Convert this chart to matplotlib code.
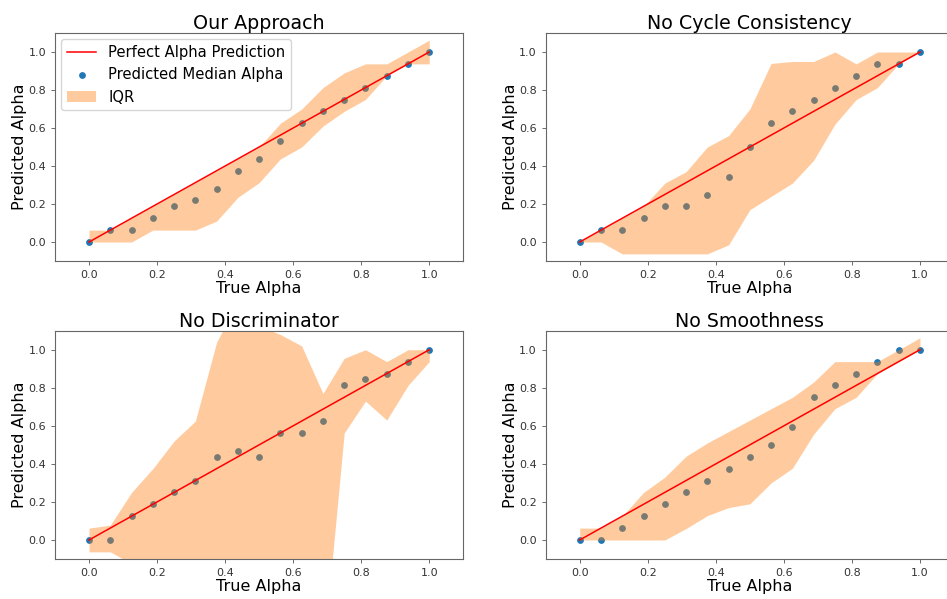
import numpy as np
import matplotlib
matplotlib.use("Agg")
import matplotlib.pyplot as plt

true_alpha = [0.0, 0.0625, 0.125, 0.1875, 0.25, 0.3125, 0.375, 0.4375, 0.5,
              0.5625, 0.625, 0.6875, 0.75, 0.8125, 0.875, 0.9375, 1.0]

# Our Approach
ours_median = [0.0, 0.0625, 0.0625, 0.125, 0.1875, 0.21875, 0.28125, 0.375, 0.4375,
               0.53125, 0.625, 0.6875, 0.75, 0.8125, 0.875, 0.9375, 1.0]
ours_q1 = [0.0, 0.0, 0.0, 0.0625, 0.0625, 0.0625, 0.11, 0.235, 0.3125,
           0.4375, 0.5, 0.61, 0.6875, 0.75, 0.875, 0.9375, 0.9375]
ours_q3 = [0.0625, 0.0625, 0.125, 0.1875, 0.25, 0.3125, 0.375, 0.4375, 0.5,
           0.625, 0.70, 0.8125, 0.89, 0.9375, 0.9375, 1.0, 1.0625]

# No Cycle Consistency
nocyc_median = [0.0, 0.0625, 0.0625, 0.125, 0.1875, 0.1875, 0.25, 0.34375, 0.5,
                0.625, 0.6875, 0.75, 0.8125, 0.875, 0.9375, 0.9375, 1.0]
nocyc_q1 = [0.0, 0.0, -0.0625, -0.0625, -0.0625, -0.0625, -0.0625, -0.015, 0.17,
            0.24, 0.31, 0.43, 0.62, 0.75, 0.8125, 0.9375, 1.0]
nocyc_q3 = [0.0, 0.0625, 0.125, 0.1875, 0.31, 0.37, 0.5, 0.56, 0.70,
            0.94, 0.95, 0.95, 1.0, 0.9375, 1.0, 1.0, 1.0]

# No Discriminator
nodisc_median = [0.0, 0.0, 0.125, 0.1875, 0.25, 0.3125, 0.4375, 0.46875, 0.4375,
                 0.5625, 0.5625, 0.625, 0.8125, 0.84375, 0.875, 0.9375, 1.0]
nodisc_q1 = [-0.0625, -0.0625, -0.125, -0.1875, -0.25, -0.3125, -0.375, -0.4375, -0.5,
             -0.5, -0.5625, -0.625, 0.5625, 0.73, 0.63, 0.8125, 0.9375]
nodisc_q3 = [0.0625, 0.078, 0.25, 0.375, 0.52, 0.625, 1.04, 1.25, 1.125,
             1.08, 1.02, 0.77, 0.955, 1.0, 0.9375, 1.0, 1.0]

# No Smoothness
nosmooth_median = [0.0, 0.0, 0.0625, 0.125, 0.1875, 0.25, 0.3125, 0.375, 0.4375,
                   0.5, 0.59375, 0.75, 0.8125, 0.875, 0.9375, 1.0, 1.0]
nosmooth_q1 = [0.0, 0.0, 0.0, 0.0, 0.0, 0.06, 0.128, 0.17, 0.19,
               0.30, 0.377, 0.556, 0.69, 0.75, 0.875, 0.9375, 1.0]
nosmooth_q3 = [0.0625, 0.0625, 0.125, 0.25, 0.33, 0.44, 0.51, 0.57, 0.63,
               0.69, 0.75, 0.83, 0.9375, 0.9375, 0.9375, 1.0, 1.0625]

panels = [
    ("Our Approach", ours_median, ours_q1, ours_q3),
    ("No Cycle Consistency", nocyc_median, nocyc_q1, nocyc_q3),
    ("No Discriminator", nodisc_median, nodisc_q1, nodisc_q3),
    ("No Smoothness", nosmooth_median, nosmooth_q1, nosmooth_q3),
]

W, H = 947, 599
fig = plt.figure(figsize=(W / 100, H / 100), dpi=100)

# axes boxes in pixels: left, top, right, bottom
boxes = [(55, 33, 463.3, 261), (545.7, 33, 954, 261),
         (55, 330.7, 463.3, 559), (545.7, 330.7, 954, 559)]

for k, (title, med, q1, q3) in enumerate(panels):
    l, t, r, b = boxes[k]
    ax = fig.add_axes([l / W, 1 - b / H, (r - l) / W, (b - t) / H])
    ax.plot([0, 1], [0, 1], color="red", lw=1.1, label="Perfect Alpha Prediction")
    ax.scatter(true_alpha, med, s=15, color="C0", label="Predicted Median Alpha")
    ax.fill_between(true_alpha, q1, q3, color="C1", alpha=0.4, lw=0, label="IQR")
    ax.set_xlim(-0.1, 1.1)
    ax.set_ylim(-0.1, 1.1)
    ax.set_xticks([0.0, 0.2, 0.4, 0.6, 0.8, 1.0])
    ax.set_yticks([0.0, 0.2, 0.4, 0.6, 0.8, 1.0])
    ax.tick_params(labelsize=8, labelcolor="#333333", color="#555555", width=0.6, length=3)
    for sp in ax.spines.values():
        sp.set_color("#666666")
        sp.set_linewidth(0.8)
    ax.set_title(title, fontsize=13.7, pad=2.5)
    ax.set_xlabel("True Alpha", fontsize=11.5, labelpad=1)
    ax.set_ylabel("Predicted Alpha", fontsize=11.5, labelpad=1)
    if k == 0:
        ax.legend(loc="upper left", fontsize=10.6, borderaxespad=0.4)

fig.savefig("out.png", dpi=100)
